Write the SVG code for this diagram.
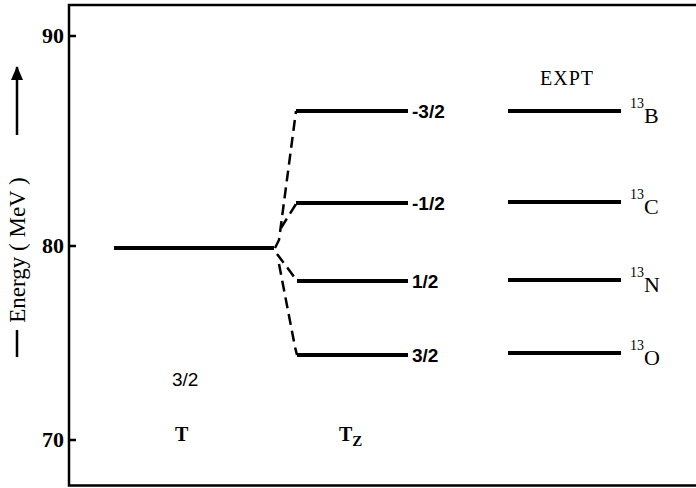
<svg xmlns="http://www.w3.org/2000/svg" width="696" height="488" viewBox="0 0 696 488">
<style>
.frame{fill:none;stroke:#000;stroke-width:2.5}
.lvl{stroke:#000;stroke-width:4;fill:none}
.dash{stroke:#000;stroke-width:2.5;fill:none;stroke-dasharray:11,6}
.num{font-family:"Liberation Serif",serif;font-weight:bold;font-size:22px}
.lab{font-family:"Liberation Sans",sans-serif;font-weight:bold;font-size:19px}
.txt{font-family:"Liberation Serif",serif;font-size:20px}
.sans{font-family:"Liberation Sans",sans-serif;font-size:19px}
.sup{font-size:14px}
.nuc{font-size:22px}
</style>
<defs>
<marker id="ah" markerWidth="14" markerHeight="12" refX="13" refY="6" orient="auto" markerUnits="userSpaceOnUse">
<path d="M0,0 L14,6 L0,12 Z" fill="#000"/>
</marker>
</defs>
<rect width="696" height="488" fill="#fff"/>
<g id="axis">
<path class="frame" d="M696,5 H69 V485.5 H696"/>
<path class="frame" d="M69,36 H76 M69,246 H76 M69,440 H76"/>
<text class="num" x="64" y="43" text-anchor="end">90</text>
<text class="num" x="64" y="253" text-anchor="end">80</text>
<text class="num" x="64" y="447" text-anchor="end">70</text>
<line x1="17" y1="357" x2="17" y2="330" stroke="#000" stroke-width="2.5"/>
<line x1="17" y1="135" x2="17" y2="67" stroke="#000" stroke-width="2.5" marker-end="url(#ah)"/>
<text class="txt" transform="translate(25,250) rotate(-90)" text-anchor="middle" style="font-size:23px">Energy ( MeV )</text>
</g>
<g id="T-level">
<line class="lvl" x1="114" y1="248" x2="274" y2="248"/>
<text class="sans" x="172" y="386">3/2</text>
<text class="txt" x="175" y="441" font-weight="bold">T</text>
</g>
<g id="connectors">
<path class="dash" d="M275,248 L279,240 L296,111"/>
<path class="dash" d="M281,228 L296,204"/>
<path class="dash" d="M277,254 L292,274 L297,281"/>
<path class="dash" d="M279,264 L295,347 L297,355"/>
</g>
<g id="Tz-levels">
<line class="lvl" x1="296" y1="111" x2="408" y2="111"/>
<line class="lvl" x1="296" y1="203" x2="408" y2="203"/>
<line class="lvl" x1="297" y1="281" x2="408" y2="281"/>
<line class="lvl" x1="297" y1="355" x2="408" y2="355"/>
<text class="lab" x="412" y="118">-3/2</text>
<text class="lab" x="412" y="210">-1/2</text>
<text class="lab" x="412" y="288">1/2</text>
<text class="lab" x="412" y="362">3/2</text>
<text class="txt" x="339" y="441" font-weight="bold">T<tspan style="font-size:15px" dy="5">Z</tspan></text>
</g>
<g id="expt">
<text class="txt" x="567" y="85" text-anchor="middle" letter-spacing="1">EXPT</text>
<line class="lvl" x1="508" y1="111" x2="621" y2="111"/>
<line class="lvl" x1="508" y1="202" x2="621" y2="202"/>
<line class="lvl" x1="508" y1="280" x2="621" y2="280"/>
<line class="lvl" x1="508" y1="353" x2="621" y2="353"/>
<text class="txt" x="630" y="108"><tspan class="sup">13</tspan><tspan class="nuc" dy="15">B</tspan></text>
<text class="txt" x="630" y="199"><tspan class="sup">13</tspan><tspan class="nuc" dy="15">C</tspan></text>
<text class="txt" x="630" y="277"><tspan class="sup">13</tspan><tspan class="nuc" dy="15">N</tspan></text>
<text class="txt" x="630" y="350"><tspan class="sup">13</tspan><tspan class="nuc" dy="15">O</tspan></text>
</g>
</svg>
